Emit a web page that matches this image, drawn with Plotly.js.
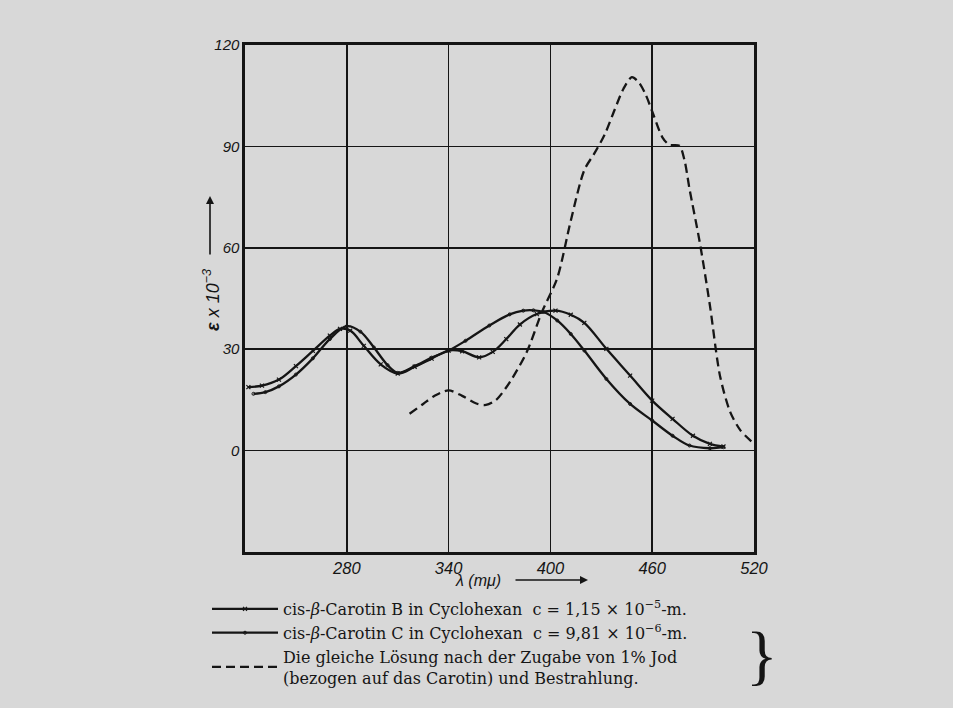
<!DOCTYPE html>
<html>
<head>
<meta charset="utf-8">
<script src="https://cdn.plot.ly/plotly-3.0.1.min.js"></script>
<style>
html,body{margin:0;padding:0;background:#d8d8d8;}
#chart{width:953px;height:708px;}
</style>
</head>
<body>
<div id="chart"></div>
<script>
// Wavelength (mμ) and ε×10^-3 values
const xB = [222, 230, 240, 250, 260, 270, 276, 282, 290, 300, 310, 320, 330, 340, 348, 358, 366, 374, 382, 392, 403, 412, 420, 433, 447, 460, 472, 484, 494, 502];
const yB = [18.8, 19.2, 21, 25, 29.5, 34, 36, 35.5, 31, 25.5, 22.8, 24.8, 27.2, 29.6, 29.4, 27.6, 29.2, 33, 37.3, 40.4, 41.4, 40.2, 37.8, 30.1, 22.2, 14.8, 9.4, 4.4, 2, 1.2];

const xC = [225, 232, 240, 250, 260, 270, 280, 288, 296, 304, 310, 320, 330, 340, 350, 364, 376, 384, 390, 396, 404, 412, 420, 433, 447, 460, 472, 482, 494, 502];
const yC = [16.8, 17.3, 19, 22.5, 27.3, 33, 36.8, 35.2, 30.5, 25.3, 23, 25, 27.5, 29.6, 32.5, 37, 40.3, 41.4, 41.5, 41, 38.5, 34.5, 29.6, 21.2, 13.8, 8.9, 4.4, 1.5, 0.7, 1];

const xD = [317, 325, 332, 340, 348, 356, 362, 368, 376, 386, 395, 404, 412, 420, 426, 432, 438, 443, 448, 452, 456, 461, 466, 470, 476, 479, 482, 488, 494, 500, 506, 512, 519];
const yD = [10.9, 13.8, 16.3, 17.8, 16.2, 14, 13.5, 15, 20.2, 29.1, 41, 51, 68, 83, 88, 93.5, 101, 107, 110.5, 109, 105.5, 99, 92.7, 90.5, 90.2, 86, 77.4, 61.7, 43, 22, 11.4, 6, 2.5];

const xTicks = [280, 340, 400, 460, 520];
const yTicks = [0, 30, 60, 90, 120];

const nameB = "cis-<i>β</i>-Carotin B in Cyclohexan  c = 1,15 × 10<sup>−5</sup>-m.";
const nameC = "cis-<i>β</i>-Carotin C in Cyclohexan  c = 9,81 × 10<sup>−6</sup>-m.";
const nameD = "Die gleiche Lösung nach der Zugabe von 1% Jod<br>(bezogen auf das Carotin) und Bestrahlung.";

const ink = '#151515';

const traces = [
  {x: xB, y: yB, name: nameB, mode: 'lines+markers', legendgroup: 'b',
   line: {color: ink, width: 2.3, shape: 'spline', smoothing: 1},
   marker: {symbol: 'x-thin-open', size: 4, line: {color: ink, width: 1.2}, color: ink}},
  {x: xC, y: yC, name: nameC, mode: 'lines+markers', legendgroup: 'c',
   line: {color: ink, width: 2.3, shape: 'spline', smoothing: 1},
   marker: {symbol: 'circle-open', size: 3, line: {color: ink, width: 1}, color: ink}},
  {x: xD, y: yD, name: nameD, mode: 'lines', legendgroup: 'd',
   line: {color: ink, width: 2.3, dash: '9px,5px', shape: 'spline', smoothing: 0.8}}
];

const pl = 245, pr = 754, pt = 45, pb = 552;
const px = v => (v - pl) / (pr - pl);
const py = v => (pb - v) / (pb - pt);

const sansIt = (s) => ({family: 'Liberation Sans, Arial, sans-serif', size: s, color: ink, style: 'italic'});

const layout = {
  width: 953, height: 708,
  paper_bgcolor: '#d8d8d8', plot_bgcolor: '#d8d8d8',
  margin: {l: pl, r: 953 - pr, t: pt, b: 708 - pb, pad: 0, autoexpand: false},
  showlegend: true,
  legend: {
    xref: 'container', yref: 'container',
    x: 207 / 953, y: 1 - 592 / 708, xanchor: 'left', yanchor: 'top',
    bgcolor: 'rgba(0,0,0,0)', borderwidth: 0,
    font: {family: 'DejaVu Serif, serif', size: 16, color: ink},
    traceorder: 'grouped', tracegroupgap: 0, itemwidth: 66
  },
  xaxis: {
    range: [220, 520], tickvals: xTicks, ticktext: xTicks.map(String),
    showgrid: true, gridcolor: ink, gridwidth: 1.6,
    showline: true, linecolor: ink, linewidth: 2.6, mirror: true,
    zeroline: false, ticks: '', tickfont: sansIt(16.5), tickangle: 0, automargin: false, fixedrange: true
  },
  yaxis: {
    range: [-30, 120], tickvals: yTicks, ticktext: yTicks.map(String),
    showgrid: true, gridcolor: ink, gridwidth: 1.6,
    showline: true, linecolor: ink, linewidth: 2.6, mirror: true,
    zeroline: false, ticks: '', tickfont: sansIt(15), automargin: false, fixedrange: true
  },
  annotations: [
    {xref: 'paper', yref: 'paper', x: px(211), y: py(300), xanchor: 'center', yanchor: 'middle',
     text: '<b>ε</b> x 10<sup>−3</sup>', textangle: -90, showarrow: false, font: sansIt(18)},
    {xref: 'paper', yref: 'paper', x: px(478), y: py(580), xanchor: 'center', yanchor: 'middle',
     text: 'λ (mμ)', showarrow: false, font: sansIt(16)},
    {xref: 'paper', yref: 'paper', x: px(588), y: py(580), ax: -74, ay: 0, text: '',
     showarrow: true, arrowhead: 2, arrowsize: 1, arrowwidth: 1.6, arrowcolor: ink},
    {xref: 'paper', yref: 'paper', x: px(210), y: py(196), ax: 0, ay: 60, text: '',
     showarrow: true, arrowhead: 2, arrowsize: 1, arrowwidth: 1.6, arrowcolor: ink},
    {xref: 'paper', yref: 'paper', x: px(762), y: py(654), xanchor: 'center', yanchor: 'middle',
     text: '}', showarrow: false, font: {family: 'Liberation Serif, serif', size: 66, color: ink}}
  ]
};

Plotly.newPlot('chart', traces, layout, {displayModeBar: false, staticPlot: true});
</script>
</body>
</html>
